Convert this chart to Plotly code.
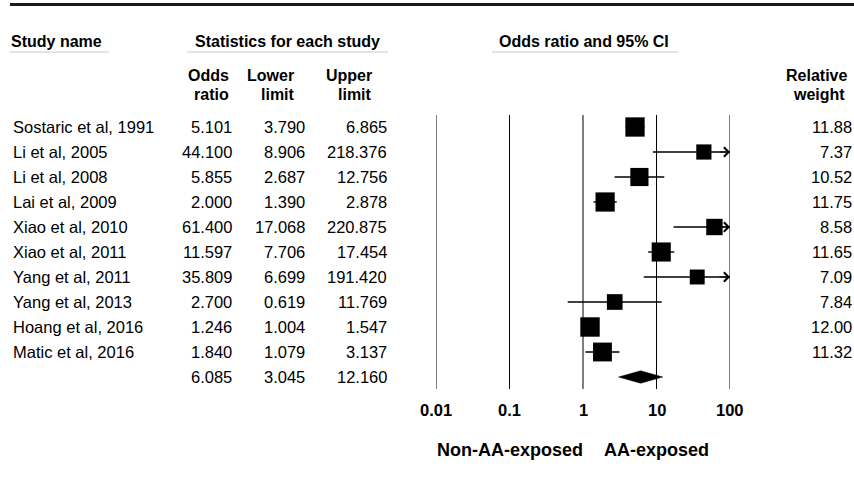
import numpy as np
import plotly.graph_objects as go

studies = ["Sostaric et al, 1991", "Li et al, 2005", "Li et al, 2008", "Lai et al, 2009",
           "Xiao et al, 2010", "Xiao et al, 2011", "Yang et al, 2011", "Yang et al, 2013",
           "Hoang et al, 2016", "Matic et al, 2016"]
odds = [5.101, 44.100, 5.855, 2.000, 61.400, 11.597, 35.809, 2.700, 1.246, 1.840]
lower = [3.790, 8.906, 2.687, 1.390, 17.068, 7.706, 6.699, 0.619, 1.004, 1.079]
upper = [6.865, 218.376, 12.756, 2.878, 220.875, 17.454, 191.420, 11.769, 1.547, 3.137]
weights = [11.88, 7.37, 10.52, 11.75, 8.58, 11.65, 7.09, 7.84, 12.00, 11.32]
summary_or, summary_lo, summary_up = 6.085, 3.045, 12.160
tick_vals = [0.01, 0.1, 1, 10, 100]
tick_labels = ["0.01", "0.1", "1", "10", "100"]

W, H = 854, 483
ROW0, ROWH = 127, 25          # pixel y of first row, row spacing
X_MIN, X_MAX = 0.01, 100
XPIX0, XPIX1 = 436, 730

def prow(py):
    """pixel y -> row units"""
    return (py - ROW0) / ROWH

def px(x):
    return x / W

FONT = "Liberation Sans, Arial, sans-serif"
n = len(studies)
rows = list(range(n))
sum_row = n

fig = go.Figure()

# vertical reference lines
gx, gy = [], []
for v in tick_vals:
    gx += [v, v, None]
    gy += [prow(115), prow(389), None]
fig.add_trace(go.Scatter(x=gx, y=gy, mode="lines", line=dict(color="black", width=1),
                         hoverinfo="skip", showlegend=False))

# CI lines
ex, ey = [], []
for i in rows:
    ex += [max(lower[i], X_MIN), min(upper[i], X_MAX), None]
    ey += [i, i, None]
fig.add_trace(go.Scatter(x=ex, y=ey, mode="lines", line=dict(color="black", width=1.4),
                         hoverinfo="skip", showlegend=False))

# squares
fig.add_trace(go.Scatter(x=odds, y=rows, mode="markers",
                         marker=dict(symbol="square", color="black", opacity=1,
                                     size=[5.6 * np.sqrt(w) for w in weights],
                                     line=dict(width=0)),
                         showlegend=False))

# summary diamond
dh = 6.2 / ROWH
fig.add_trace(go.Scatter(x=[summary_lo, summary_or, summary_up, summary_or, summary_lo],
                         y=[sum_row, sum_row - dh, sum_row, sum_row + dh, sum_row],
                         mode="lines", fill="toself", fillcolor="black",
                         line=dict(color="black", width=0.5), showlegend=False,
                         hoverinfo="skip"))

ann = []
# arrows for clipped CIs
for i in rows:
    if upper[i] > X_MAX:
        ann.append(dict(x=np.log10(X_MAX), y=i, xref="x", yref="y", text="", showarrow=True,
                        ax=-12, ay=0, arrowhead=4, arrowwidth=1.2, arrowsize=1.5,
                        arrowcolor="black", standoff=0))

def txt(x, y, s, anchor="left", size=16.5, bold=False, xref="paper", xshift=0):
    if bold:
        s = "<b>" + s + "</b>"
    ann.append(dict(x=x, y=y, xref=xref, yref="y", text=s, showarrow=False,
                    xanchor=anchor, yanchor="middle", xshift=xshift,
                    font=dict(family=FONT, size=size, color="black")))

# table rows
for i in rows:
    txt(px(11), i, studies[i])
    txt(px(234), i, f"{odds[i]:.3f}", "right")
    txt(px(307), i, f"{lower[i]:.3f}", "right")
    txt(px(389), i, f"{upper[i]:.3f}", "right")
    txt(px(854), i, f"{weights[i]:.2f}", "right")
txt(px(234), sum_row, f"{summary_or:.3f}", "right")
txt(px(307), sum_row, f"{summary_lo:.3f}", "right")
txt(px(389), sum_row, f"{summary_up:.3f}", "right")

# headers
hy = prow(41)
txt(px(9), hy, "Study name", "left", 16, True)
txt(px(287), hy, "Statistics for each study", "center", 16, True)
txt(px(584), hy, "Odds ratio and 95% CI", "center", 16, True)
l1, l2 = prow(75), prow(94)
txt(px(208), l1, "Odds", "center", 16, True)
txt(px(211), l2, "ratio", "center", 16, True)
txt(px(270), l1, "Lower", "center", 16, True)
txt(px(278), l2, "limit", "center", 16, True)
txt(px(349), l1, "Upper", "center", 16, True)
txt(px(355), l2, "limit", "center", 16, True)
txt(px(849), l1, "Relative", "right", 16, True)
txt(px(847), l2, "weight", "right", 16, True)

# tick labels
for v, lab in zip(tick_vals, tick_labels):
    txt(np.log10(v), prow(410), lab, "center", 16.5, True, xref="x")

# direction labels
txt(0, prow(450), "Non-AA-exposed", "right", 18, True, xref="x", xshift=2)
txt(0, prow(450), "AA-exposed", "left", 18, True, xref="x", xshift=19)

shapes = [
    dict(type="line", xref="paper", yref="paper", x0=px(10), x1=1, y0=1 - 4.5 / H, y1=1 - 4.5 / H,
         line=dict(color="#1a1a1a", width=3)),
    dict(type="line", xref="paper", yref="paper", x0=px(10), x1=px(109), y0=1 - 52 / H, y1=1 - 52 / H,
         line=dict(color="#c8c8c8", width=1)),
    dict(type="line", xref="paper", yref="paper", x0=px(187), x1=px(388), y0=1 - 52 / H, y1=1 - 52 / H,
         line=dict(color="#c8c8c8", width=1)),
    dict(type="line", xref="paper", yref="paper", x0=px(492), x1=px(678), y0=1 - 52 / H, y1=1 - 52 / H,
         line=dict(color="#c8c8c8", width=1)),
]

fig.update_layout(
    width=W, height=H, autosize=False,
    margin=dict(l=0, r=0, t=0, b=0),
    paper_bgcolor="white", plot_bgcolor="white",
    xaxis=dict(type="log", range=[np.log10(X_MIN), np.log10(X_MAX)],
               domain=[XPIX0 / W, XPIX1 / W], visible=False, fixedrange=True),
    yaxis=dict(range=[prow(H), prow(0)], domain=[0, 1], visible=False, fixedrange=True),
    annotations=ann, shapes=shapes, showlegend=False,
)

fig.write_html("out.html", config={"displayModeBar": False},
               post_script="document.body.style.margin='0';document.body.style.overflow='hidden';")
